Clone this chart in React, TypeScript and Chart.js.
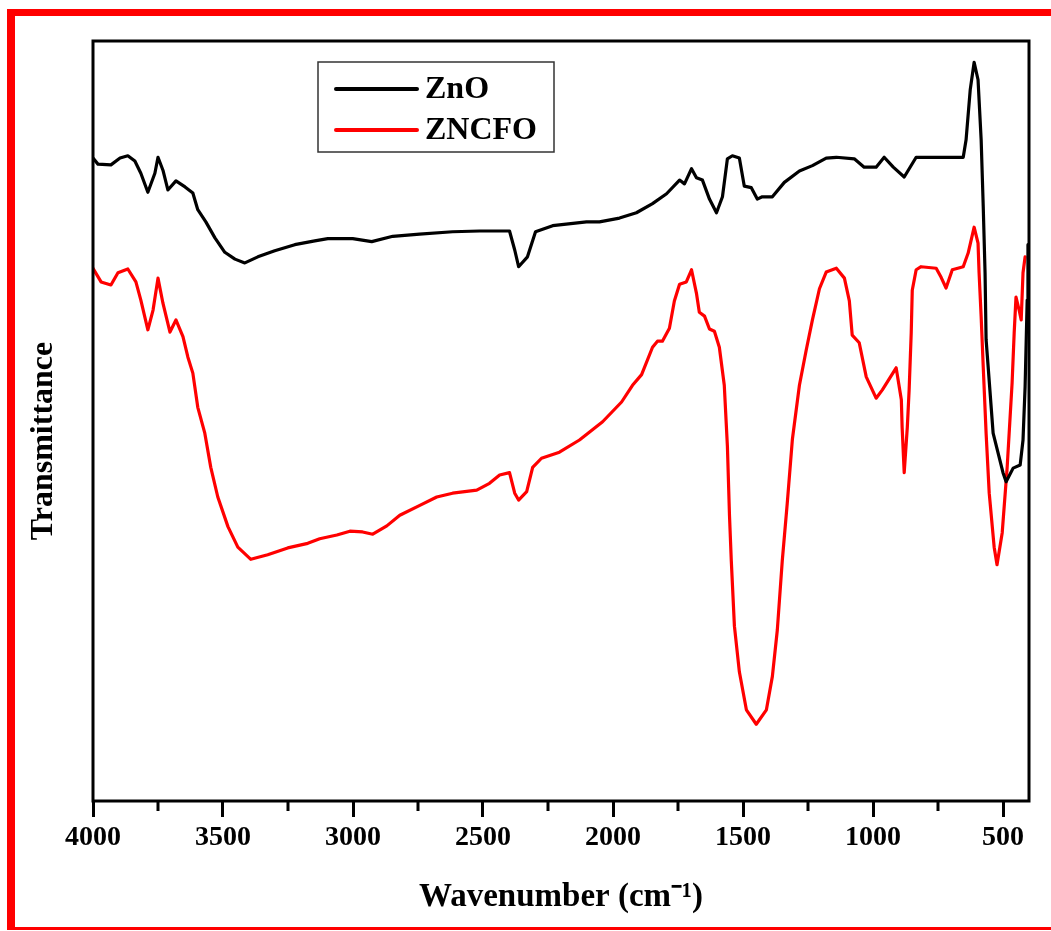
import React, { useEffect, useRef } from "react";
import { Chart, registerables } from "chart.js";

Chart.register(...registerables);

// ---- Data ----
const TICK_VALUES = [4000, 3500, 3000, 2500, 2000, 1500, 1000, 500];
const MINOR_TICK_VALUES = [3750, 3250, 2750, 2250, 1750, 1250, 750];
const X_TITLE = "Wavenumber (cm\u207B\u00B9)";
const Y_TITLE = "Transmittance";
const SERIES_LABELS = ["ZnO", "ZNCFO"];
const SERIES_COLORS = ["#000000", "#ff0000"];

const ZNO_WN = [4000, 3981, 3931, 3896, 3866, 3839, 3816, 3789, 3762, 3750, 3731, 3712, 3681, 3646, 3616, 3597, 3566, 3531, 3493, 3454, 3416, 3366, 3301, 3224, 3147, 3097, 3001, 2928, 2847, 2744, 2617, 2513, 2398, 2378, 2363, 2329, 2298, 2232, 2102, 2052, 1975, 1910, 1848, 1794, 1744, 1725, 1698, 1679, 1656, 1629, 1602, 1579, 1560, 1541, 1514, 1495, 1468, 1445, 1426, 1387, 1341, 1283, 1233, 1180, 1141, 1072, 1034, 988, 957, 922, 880, 834, 653, 642, 626, 611, 596, 584, 576, 569, 565, 557, 538, 500, 488, 461, 434, 423, 415, 407, 404];
const ZNO_T = [84.6, 83.8, 83.7, 84.6, 84.9, 84.2, 82.6, 80.1, 82.6, 84.7, 83.0, 80.4, 81.6, 80.8, 80.0, 77.8, 76.2, 74.1, 72.2, 71.3, 70.8, 71.6, 72.4, 73.2, 73.7, 74.0, 74.0, 73.6, 74.3, 74.6, 74.9, 75.0, 75.0, 72.5, 70.3, 71.6, 74.9, 75.7, 76.2, 76.2, 76.7, 77.4, 78.6, 79.9, 81.7, 81.2, 83.2, 82.0, 81.7, 79.2, 77.4, 79.5, 84.5, 84.9, 84.6, 80.9, 80.7, 79.2, 79.5, 79.5, 81.4, 82.9, 83.6, 84.6, 84.7, 84.5, 83.4, 83.4, 84.7, 83.4, 82.1, 84.7, 84.7, 87.0, 93.6, 97.2, 94.9, 87.0, 78.2, 69.5, 60.7, 57.1, 48.4, 43.2, 42.0, 43.8, 44.2, 47.5, 54.5, 65.9, 73.2];

const ZNCFO_WN = [4000, 3969, 3931, 3904, 3866, 3835, 3816, 3789, 3769, 3750, 3731, 3704, 3681, 3654, 3635, 3616, 3597, 3570, 3547, 3520, 3481, 3443, 3393, 3328, 3251, 3174, 3128, 3062, 3012, 2963, 2924, 2870, 2820, 2743, 2678, 2617, 2524, 2475, 2436, 2398, 2378, 2363, 2332, 2309, 2275, 2206, 2129, 2040, 1967, 1925, 1890, 1848, 1829, 1810, 1783, 1764, 1744, 1718, 1698, 1679, 1668, 1648, 1629, 1610, 1591, 1572, 1560, 1552, 1545, 1533, 1514, 1487, 1449, 1410, 1387, 1368, 1349, 1330, 1310, 1283, 1257, 1233, 1206, 1180, 1141, 1110, 1091, 1080, 1053, 1026, 988, 964, 911, 891, 888, 880, 868, 861, 853, 849, 834, 815, 757, 738, 719, 695, 653, 634, 611, 596, 592, 584, 576, 565, 553, 534, 523, 503, 484, 465, 457, 450, 438, 430, 423, 415];
const ZNCFO_T = [70.1, 68.3, 67.9, 69.5, 70.0, 68.3, 65.9, 62.0, 64.6, 68.8, 65.5, 61.7, 63.3, 61.1, 58.4, 56.3, 51.8, 48.4, 43.9, 40.0, 36.1, 33.4, 31.8, 32.4, 33.3, 33.9, 34.5, 35.0, 35.5, 35.4, 35.1, 36.2, 37.6, 38.9, 40.0, 40.5, 40.9, 41.8, 42.9, 43.2, 40.5, 39.6, 40.7, 43.9, 45.1, 45.9, 47.5, 49.9, 52.5, 54.7, 56.1, 59.7, 60.5, 60.5, 62.2, 65.8, 68.0, 68.3, 69.9, 66.8, 64.3, 63.8, 62.1, 61.8, 59.7, 54.7, 46.7, 37.6, 31.6, 23.0, 17.0, 12.0, 10.1, 12.0, 16.4, 22.5, 31.6, 39.1, 47.6, 54.7, 59.3, 63.3, 67.4, 69.6, 70.1, 68.8, 65.8, 61.3, 60.3, 55.8, 53.0, 54.1, 57.0, 52.8, 49.2, 43.2, 49.2, 54.1, 61.6, 67.2, 69.9, 70.3, 70.1, 68.9, 67.5, 69.9, 70.3, 72.1, 75.5, 73.4, 69.5, 63.7, 57.1, 48.4, 40.5, 33.4, 31.1, 35.3, 43.9, 55.0, 61.6, 66.3, 64.6, 63.3, 69.5, 71.6];

const X_MIN = 400;
const X_MAX = 4000;

function toPoints(xs: number[], ys: number[]) {
  const n = Math.min(xs.length, ys.length);
  const pts: { x: number; y: number }[] = [];
  for (let i = 0; i < n; i++) pts.push({ x: xs[i], y: ys[i] });
  return pts;
}

const FONT_FAMILY = '"Liberation Serif", "Times New Roman", serif';

const framePlugin = {
  id: "frameAndLegend",
  afterDatasetsDraw(chart: any) {
    const { ctx, chartArea } = chart;
    const { left, top, right, bottom } = chartArea;
    ctx.save();
    // plot frame
    ctx.strokeStyle = "#000";
    ctx.lineWidth = 3;
    ctx.strokeRect(left, top, right - left, bottom - top);
    // minor ticks
    const xs = chart.scales.x;
    MINOR_TICK_VALUES.forEach((v) => {
      const px = xs.getPixelForValue(v);
      ctx.beginPath();
      ctx.moveTo(px, bottom);
      ctx.lineTo(px, bottom + 10);
      ctx.stroke();
    });
    // legend box
    const bx = left + 225;
    const by = top + 21;
    ctx.lineWidth = 1.5;
    ctx.strokeStyle = "#333";
    ctx.strokeRect(bx, by, 236, 90);
    ctx.font = "bold 32px " + FONT_FAMILY;
    ctx.textBaseline = "middle";
    ctx.textAlign = "left";
    chart.data.datasets.forEach((ds: any, i: number) => {
      const y = by + 27 + i * 41;
      ctx.strokeStyle = ds.borderColor;
      ctx.lineWidth = 4;
      ctx.lineCap = "round";
      ctx.beginPath();
      ctx.moveTo(bx + 18, y);
      ctx.lineTo(bx + 99, y);
      ctx.stroke();
      ctx.fillStyle = "#000";
      ctx.fillText(ds.label, bx + 107, y + 1);
    });
    ctx.restore();
  },
};

export default function App() {
  const canvasRef = useRef<HTMLCanvasElement | null>(null);

  useEffect(() => {
    const canvas = canvasRef.current;
    if (!canvas) return;
    const chart = new Chart(canvas, {
      type: "line",
      data: {
        datasets: [
          {
            label: SERIES_LABELS[0],
            data: toPoints(ZNO_WN, ZNO_T),
            borderColor: SERIES_COLORS[0],
            backgroundColor: SERIES_COLORS[0],
            borderWidth: 3.2,
            borderJoinStyle: "round",
            borderCapStyle: "round",
            pointRadius: 0,
            tension: 0,
            fill: false,
          },
          {
            label: SERIES_LABELS[1],
            data: toPoints(ZNCFO_WN, ZNCFO_T),
            borderColor: SERIES_COLORS[1],
            backgroundColor: SERIES_COLORS[1],
            borderWidth: 3.2,
            borderJoinStyle: "round",
            borderCapStyle: "round",
            pointRadius: 0,
            tension: 0,
            fill: false,
          },
        ],
      },
      options: {
        responsive: false,
        animation: false,
        devicePixelRatio: 1,
        layout: { padding: { left: 0, top: 41, right: 22, bottom: 0 } },
        plugins: {
          legend: { display: false },
          tooltip: { enabled: false },
          title: { display: false },
        },
        scales: {
          x: {
            type: "linear",
            reverse: true,
            min: X_MIN,
            max: X_MAX,
            afterBuildTicks: (scale: any) => {
              scale.ticks = TICK_VALUES.map((v) => ({ value: v }));
            },
            afterFit: (scale: any) => {
              scale.height = 130;
            },
            ticks: {
              autoSkip: false,
              maxRotation: 0,
              padding: 4,
              color: "#000",
              font: { family: FONT_FAMILY, size: 28, weight: "bold" },
              callback: (v: any) => String(v),
            },
            grid: {
              display: true,
              drawOnChartArea: false,
              drawTicks: true,
              tickLength: 16,
              tickWidth: 3,
              tickColor: "#000",
            },
            border: { display: false },
            title: {
              display: true,
              text: X_TITLE,
              color: "#000",
              font: { family: FONT_FAMILY, size: 33, weight: "bold" },
              padding: { top: 0, bottom: 14 },
            },
          },
          y: {
            type: "linear",
            min: 0,
            max: 100,
            afterFit: (scale: any) => {
              scale.width = 93;
            },
            ticks: { display: false },
            grid: { display: false, drawTicks: false },
            border: { display: false },
            title: {
              display: true,
              text: Y_TITLE + "     ",
              color: "#000",
              font: { family: FONT_FAMILY, size: 32, weight: "bold" },
              padding: { top: 25, bottom: 0 },
            },
          },
        },
      },
      plugins: [framePlugin],
    } as any);
    return () => chart.destroy();
  }, []);

  return (
    <>
      <div
        style={{
          position: "absolute",
          left: 7,
          top: 9,
          width: 1044,
          height: 921,
          boxSizing: "border-box",
          borderLeft: "8px solid #ff0000",
          borderTop: "7px solid #ff0000",
          borderBottom: "3px solid #ff0000",
        }}
      />
      <canvas
        ref={canvasRef}
        width={1051}
        height={931}
        style={{ position: "absolute", left: 0, top: 0, width: 1051, height: 931 }}
      />
    </>
  );
}
